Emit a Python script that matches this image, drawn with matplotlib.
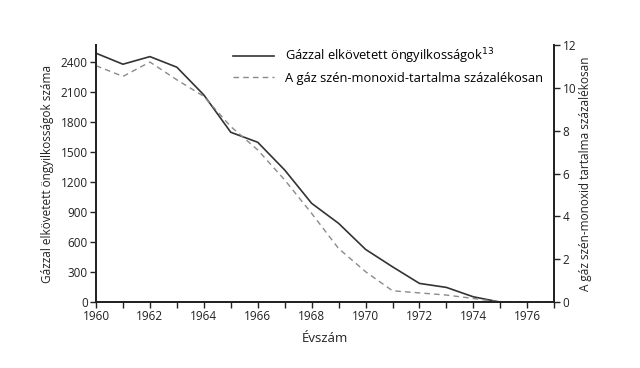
import numpy as np
import matplotlib.pyplot as plt

plt.rcParams['font.family'] = ['Open Sans', 'DejaVu Sans']

years = np.arange(1960, 1978)
suicides = [2487, 2377, 2453, 2347, 2070, 1697, 1597, 1320, 987, 787,
            527, 353, 187, 147, 53, 0, 0, 0]
co_percent = [11.03, 10.53, 11.2, 10.37, 9.6, 8.19, 7.1, 5.7, 4.14, 2.5,
              1.42, 0.53, 0.43, 0.33, 0.17, 0.0, 0.0, 0.0]

left_ticks = np.arange(0, 2401, 300)
right_ticks = np.arange(0, 13, 2)
x_labels = np.arange(1960, 1977, 2)

fig = plt.figure(figsize=(6.4, 3.68), dpi=100)
ax = fig.add_axes([0.15, 0.179, 0.716, 0.699])
ax2 = ax.twinx()

l1, = ax.plot(years, suicides, color='#333333', lw=1.2,
              label='Gázzal elkövetett öngyilkosságok$^{13}$')
l2, = ax2.plot(years, co_percent, color='#8a8a8a', lw=1.0, ls=(0, (4, 3)),
               label='A gáz szén-monoxid-tartalma százalékosan')

ax.set_xlim(1960, 1977)
ax.set_ylim(0, 2570)
ax2.set_ylim(0, 12)

ax.set_xticks(years)
ax.set_xticklabels([str(y) if y in x_labels else '' for y in years])
ax.set_yticks(left_ticks)
ax2.set_yticks(right_ticks)

for a in (ax, ax2):
    a.spines['top'].set_visible(False)
    for s in a.spines.values():
        s.set_linewidth(1.3)
        s.set_color('#222222')
    a.tick_params(direction='out', length=4, width=1, colors='#222222',
                  labelsize=8.5, pad=2)

ax.set_xlabel('Évszám', fontsize=9.5, color='#222222', labelpad=6)
ax.set_ylabel('Gázzal elkövetett öngyilkosságok száma', fontsize=8.5,
              color='#222222', labelpad=5)
ax2.set_ylabel('A gáz szén-monoxid tartalma százalékosan', fontsize=8.5,
               color='#222222', labelpad=2)

ax.legend(handles=[l1, l2], loc='upper right', bbox_to_anchor=(1.0, 1.04),
          frameon=False, fontsize=9.3, handlelength=3.2, labelspacing=0.45)

fig.savefig('out.png', dpi=100)
